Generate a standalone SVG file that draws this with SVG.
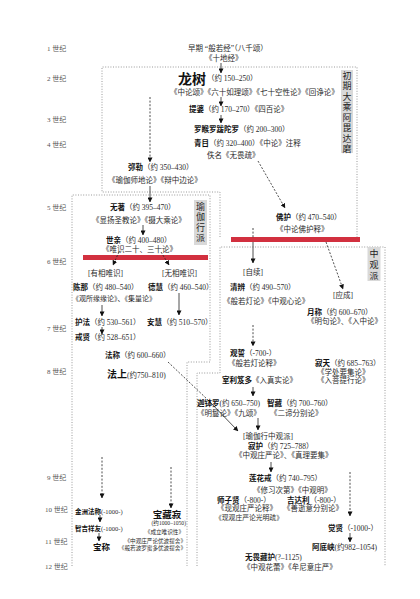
<svg xmlns="http://www.w3.org/2000/svg" width="420" height="599" viewBox="0 0 420 599">
<defs>
<style>
text{font-family:"Liberation Serif","Noto Sans CJK SC",serif;font-size:7.5px;fill:#2a2a2a}
.b{font-weight:bold;fill:#111}
.c{font-size:7px;fill:#555}
.s{font-size:5.6px}
.box{fill:none;stroke:#808080;stroke-width:0.8;stroke-dasharray:1 1.6}
.ln{fill:none;stroke:#222;stroke-width:0.8}
.dl{fill:none;stroke:#222;stroke-width:0.8;stroke-dasharray:2 1.6}
.red{fill:#d2303f}
.lab{fill:#d9d9d9}
.v{font-size:9px;fill:#222;text-anchor:middle}
</style>
<marker id="ah" viewBox="0 0 6 6" refX="5.5" refY="3" markerWidth="5" markerHeight="5" markerUnits="userSpaceOnUse" orient="auto"><path d="M0,0L6,3L0,6z" fill="#111"/></marker>
</defs>
<rect width="420" height="599" fill="#fff"/>

<g id="centuries">
<text class="c" x="47" y="51">1 世纪</text>
<text class="c" x="47" y="81">2 世纪</text>
<text class="c" x="47" y="122">3 世纪</text>
<text class="c" x="47" y="147">4 世纪</text>
<text class="c" x="47" y="210">5 世纪</text>
<text class="c" x="47" y="264">6 世纪</text>
<text class="c" x="47" y="331">7 世纪</text>
<text class="c" x="47" y="374">8 世纪</text>
<text class="c" x="47" y="480">9 世纪</text>
<text class="c" x="45" y="512">10 世纪</text>
<text class="c" x="45" y="544">11 世纪</text>
<text class="c" x="45" y="569">12 世纪</text>
</g>

<g id="regions">
<path class="box" d="M220,237 L220,192 L102,192 L102,67 L357,67 L357,237"/>
<path class="box" d="M72,566 L72,195 L210,195 L210,362 L187,362 L187,566"/>
<path class="box" d="M197,566 L197,373 L220,373 L220,247 L385,247 L385,566"/>
<rect class="red" x="83" y="255" width="125" height="5"/>
<rect class="red" x="231" y="237" width="129" height="5"/>
</g>

<g id="label-abhidharma">
<rect class="lab" x="341" y="70" width="12" height="83"/>
<text class="v" x="347" y="78.5">初</text>
<text class="v" x="347" y="89">期</text>
<text class="v" x="347" y="99.5">大</text>
<text class="v" x="347" y="110">乘</text>
<text class="v" x="347" y="120.5">阿</text>
<text class="v" x="347" y="131">毘</text>
<text class="v" x="347" y="141.5">达</text>
<text class="v" x="347" y="152">磨</text>
</g>
<g id="label-yogacara">
<rect class="lab" x="194" y="200" width="13" height="45"/>
<text class="v" x="200.5" y="209.5">瑜</text>
<text class="v" x="200.5" y="220">伽</text>
<text class="v" x="200.5" y="230.5">行</text>
<text class="v" x="200.5" y="241">派</text>
</g>
<g id="label-madhyamaka">
<rect class="lab" x="367.5" y="247" width="13" height="34"/>
<text class="v" x="374" y="256.5">中</text>
<text class="v" x="374" y="267.5">观</text>
<text class="v" x="374" y="278.5">派</text>
</g>

<g id="connectors">
<line class="ln" x1="221" y1="63" x2="221" y2="73" marker-end="url(#ah)"/>
<line class="ln" x1="221" y1="97" x2="221" y2="106" marker-end="url(#ah)"/>
<line class="ln" x1="221" y1="115" x2="221" y2="123" marker-end="url(#ah)"/>
<line class="dl" x1="150" y1="97" x2="150" y2="162" marker-end="url(#ah)"/>
<line class="ln" x1="150" y1="186" x2="150" y2="202" marker-end="url(#ah)"/>
<line class="dl" x1="258" y1="161" x2="285" y2="208" marker-end="url(#ah)"/>
<line class="ln" x1="143" y1="225" x2="143" y2="235" marker-end="url(#ah)"/>
<line class="dl" x1="119" y1="252" x2="113" y2="265" marker-end="url(#ah)"/>
<line class="dl" x1="161" y1="252" x2="169" y2="265" marker-end="url(#ah)"/>
<line class="ln" x1="102" y1="305" x2="102" y2="316" marker-end="url(#ah)"/>
<line class="ln" x1="179" y1="293" x2="179" y2="315" marker-end="url(#ah)"/>
<line class="ln" x1="102" y1="327" x2="102" y2="334" marker-end="url(#ah)"/>
<line class="dl" x1="168" y1="362" x2="208" y2="400"/>
<line class="ln" x1="208" y1="400" x2="238" y2="431" marker-end="url(#ah)"/>
<line class="dl" x1="253" y1="228" x2="253" y2="238"/>
<line class="ln" x1="253" y1="242" x2="253" y2="263" marker-end="url(#ah)"/>
<line class="dl" x1="326" y1="242" x2="343" y2="289" marker-end="url(#ah)"/>
<line class="dl" x1="253" y1="325" x2="253" y2="346" marker-end="url(#ah)"/>
<line class="ln" x1="253" y1="387" x2="253" y2="396" marker-end="url(#ah)"/>
<line class="ln" x1="258" y1="418" x2="258" y2="430" marker-end="url(#ah)"/>
<line class="ln" x1="271" y1="462" x2="271" y2="472" marker-end="url(#ah)"/>
<line class="dl" x1="350" y1="472" x2="350" y2="516" marker-end="url(#ah)"/>
<line class="ln" x1="350" y1="533" x2="350" y2="542" marker-end="url(#ah)"/>
<line class="dl" x1="102" y1="457" x2="102" y2="498" marker-end="url(#ah)"/>
<line class="dl" x1="171" y1="467" x2="171" y2="508" marker-end="url(#ah)"/>
<line class="ln" x1="100" y1="515" x2="100" y2="522" marker-end="url(#ah)"/>
<line class="ln" x1="99" y1="533" x2="99" y2="541" marker-end="url(#ah)"/>
</g>

<g id="n-prajna"><text x="188" y="51">早期 “般若经”（八千颂）</text><text x="205" y="61">《十地经》</text></g>
<g id="n-nagarjuna"><text x="178" y="84" class="b" style="font-size:14px">龙树</text><text x="207" y="81">（约 150–250）</text><text x="170" y="95">《中论颂》《六十如理颂》《七十空性论》《回诤论》</text></g>
<g id="n-aryadeva"><text x="189" y="112"><tspan class="b">提婆</tspan>（约 170–270）《四百论》</text></g>
<g id="n-rahulabhadra"><text x="194" y="132"><tspan class="b">罗睺罗跋陀罗</tspan>（约 200–300）</text></g>
<g id="n-pingala"><text x="194" y="146"><tspan class="b">青目</tspan>（约 320–400）《中论》注释</text></g>
<g id="n-akutobhaya"><text x="207" y="158">佚名《无畏疏》</text></g>
<g id="n-maitreya"><text x="128" y="170"><tspan class="b">弥勒</tspan>（约 350–430）</text><text x="108" y="183">《瑜伽师地论》《辩中边论》</text></g>
<g id="n-asanga"><text x="110" y="210"><tspan class="b">无著</tspan>（约 395–470）</text><text x="92" y="223">《显扬圣教论》《摄大乘论》</text></g>
<g id="n-vasubandhu"><text x="106" y="243"><tspan class="b">世亲</tspan>（约 400–480）</text><text x="102" y="252">《唯识二十、三十论》</text></g>
<g id="n-sakara"><text x="88" y="276">[有相唯识]</text></g>
<g id="n-nirakara"><text x="162" y="276">[无相唯识]</text></g>
<g id="n-dignaga"><text x="73" y="290"><tspan class="b">陈那</tspan>（约 480–540）</text><text x="72" y="301" style="font-size:7px">《观所缘缘论》、《集量论》</text></g>
<g id="n-gunamati"><text x="148" y="290"><tspan class="b">德慧</tspan>（约 460–540）</text></g>
<g id="n-dharmapala"><text x="75" y="325"><tspan class="b">护法</tspan>（约 530–561）</text></g>
<g id="n-sthiramati"><text x="147" y="325"><tspan class="b">安慧</tspan>（约 510–570）</text></g>
<g id="n-silabhadra"><text x="75" y="340"><tspan class="b">戒贤</tspan>（约 528–651）</text></g>
<g id="n-dharmakirti"><text x="105" y="358"><tspan class="b">法称</tspan>（约 600–660）</text></g>
<g id="n-dharmottara"><text x="107" y="378"><tspan class="b" style="font-size:10px">法上</tspan>(约750–810)</text></g>
<g id="n-buddhapalita"><text x="276" y="220"><tspan class="b">佛护</tspan>（约 470–540）</text><text x="276" y="232">《中论佛护释》</text></g>
<g id="n-svatantrika"><text x="243" y="275">[自续]</text></g>
<g id="n-prasangika"><text x="333" y="298">[应成]</text></g>
<g id="n-bhaviveka"><text x="230" y="290"><tspan class="b">清辨</tspan>（约 490–570）</text><text x="223" y="304">《般若灯论》《中观心论》</text></g>
<g id="n-candrakirti"><text x="307" y="315"><tspan class="b">月称</tspan>（约 600–670）</text><text x="307" y="324">《明句论》、《入中论》</text></g>
<g id="n-avalokitavrata"><text x="230" y="356"><tspan class="b">观誓</tspan>（-700-）</text><text x="228" y="366">《般若灯论释》</text></g>
<g id="n-santideva"><text x="315" y="366"><tspan class="b">寂天</tspan>（约 685–763）</text><text x="317" y="375">《学处要集论》</text><text x="317" y="383">《入菩提行论》</text></g>
<g id="n-srigupta"><text x="222" y="383"><tspan class="b">室利笈多</tspan>《入真实论》</text></g>
<g id="n-kambala"><text x="197" y="406"><tspan class="b">迦钵罗</tspan>(约 650–750)</text><text x="197" y="416">《明鬘论》《九颂》</text></g>
<g id="n-jnanagarbha"><text x="267" y="406"><tspan class="b">智藏</tspan>（约 700–760）</text><text x="270" y="416">《二谛分别论》</text></g>
<g id="n-yogacara-madhyamaka"><text x="243" y="439">[瑜伽行中观派]</text></g>
<g id="n-santaraksita"><text x="248" y="449"><tspan class="b">寂护</tspan>（约 725–788）</text><text x="235" y="458">《中观庄严论》、《真理要集》</text></g>
<g id="n-kamalasila"><text x="249" y="481"><tspan class="b">莲花戒</tspan>（约 740–795）</text><text x="253" y="493">《修习次第》《中观明》</text></g>
<g id="n-haribhadra"><text x="217" y="503"><tspan class="b">师子贤</tspan>（-800-）</text><text x="217" y="511">《现观庄严论释》</text><text x="215" y="520" style="font-size:6.8px">《现观庄严论光明疏》</text></g>
<g id="n-jitari"><text x="287" y="503"><tspan class="b">吉达利</tspan>（-800-）</text><text x="283" y="511">《善逝意分别论》</text></g>
<g id="n-bodhibhadra"><text x="328" y="531"><tspan class="b">觉贤</tspan>（-1000-）</text></g>
<g id="n-atisa"><text x="312" y="550"><tspan class="b">阿底峡</tspan>(约982–1054)</text></g>
<g id="n-abhayakaragupta"><text x="245" y="560"><tspan class="b">无畏藏护</tspan>(?–1125)</text><text x="243" y="570">《中观花蕾》《牟尼意庄严》</text></g>
<g id="n-suvarnadvipa"><text x="75" y="514" style="font-size:6.5px"><tspan class="b">金洲法称</tspan>(-1000-)</text></g>
<g id="n-jnanasrimitra"><text x="75" y="531" style="font-size:6.5px"><tspan class="b">智吉祥友</tspan>(-1000-)</text></g>
<g id="n-ratnakirti"><text x="93" y="550" class="b" style="font-size:8.5px">宝称</text></g>
<g id="n-ratnakarasanti"><text x="167" y="518" class="b" style="font-size:9.5px;text-anchor:middle">宝藏寂</text>
<text x="186" y="525" class="s" style="text-anchor:end">(约1000–1050)</text>
<text x="184" y="534" class="s" style="text-anchor:end">《成立唯识性》</text>
<text x="186" y="543" class="s" style="text-anchor:end">《中观庄严论优波提舍》</text>
<text x="186" y="550" class="s" style="text-anchor:end">《般若波罗蜜多优波提舍》</text></g>
</svg>
